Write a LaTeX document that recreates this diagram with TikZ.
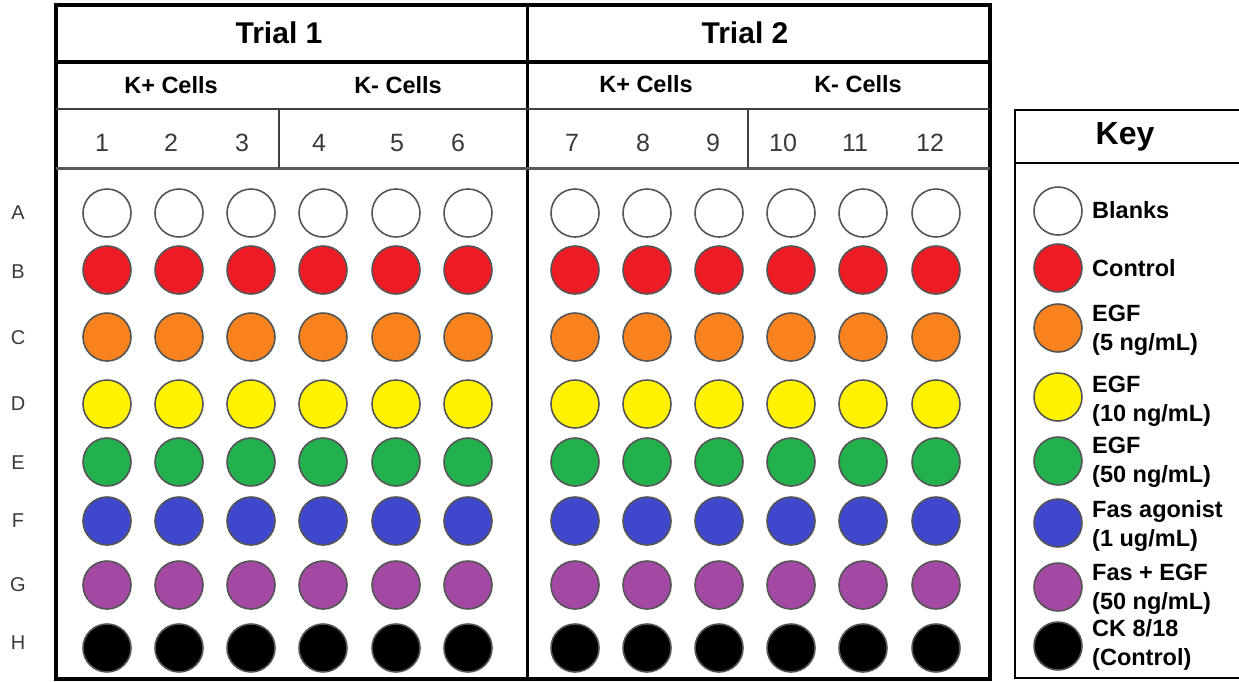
\documentclass[tikz,border=0pt]{standalone}
\usepackage{fontspec}
\setmainfont{Liberation Sans}
\definecolor{cred}{HTML}{ED1C24}
\definecolor{corange}{HTML}{F7821E}
\definecolor{cyellow}{HTML}{FFF200}
\definecolor{cgreen}{HTML}{22B14C}
\definecolor{cblue}{HTML}{3F48CC}
\definecolor{cpurple}{HTML}{A349A4}
\definecolor{welledge}{HTML}{555555}
\definecolor{numgray}{HTML}{3A3A3A}
\begin{document}
\begin{tikzpicture}[x=1pt,y=-1pt,
  well/.style={circle,draw=welledge,line width=1.6pt,minimum size=48pt,inner sep=0pt},
  trialtext/.style={font=\fontsize{30}{32}\selectfont\bfseries},
  celltext/.style={font=\fontsize{23.5}{26}\selectfont\bfseries},
  numtext/.style={font=\fontsize{25}{28}\selectfont,text=numgray},
  rowtext/.style={font=\fontsize{20}{24}\selectfont,text=numgray},
  keytext/.style={font=\fontsize{23.5}{29}\selectfont\bfseries,anchor=west,align=left,inner sep=0pt},
  thick frame/.style={line width=3.5pt},
  thin rule/.style={line width=1.5pt,draw=black!75}
]
\useasboundingbox (0,0) rectangle (1239,681);
% plate frame
\draw[thick frame] (56,5) rectangle (990,679);
\draw[thick frame] (56,62) -- (990,62);
\draw[line width=3pt] (527,5) -- (527,679);
\draw[thin rule] (56,109) -- (990,109);
\draw[line width=3pt,draw=black!65] (56,168) -- (990,168);
\draw[thin rule] (279,109) -- (279,168);
\draw[thin rule] (748,109) -- (748,168);
% headers
\node[trialtext] (t1) at (279,33) {Trial 1};
\node[trialtext] (t2) at (745,33) {Trial 2};
\node[celltext] (k1p) at (171,85) {K+ Cells};
\node[celltext] (k1m) at (398,85) {K- Cells};
\node[celltext] (k2p) at (646,84) {K+ Cells};
\node[celltext] (k2m) at (858,84) {K- Cells};
% column numbers
\foreach \n/\x in {1/102,2/171,3/242,4/319,5/397,6/458,7/572,8/643,9/713,10/783,11/855,12/930}
  \node[numtext] (n\n) at (\x,143) {\n};
% row labels
\foreach \r/\y in {A/213,B/272,C/338,D/404,E/463,F/521,G/585,H/643}
  \node[rowtext] (r\r) at (18,\y) {\r};
% wells
\foreach \r/\y/\c in {A/213/white,B/270/cred,C/337/corange,D/404/cyellow,E/462/cgreen,F/521/cblue,G/585/cpurple,H/648/black}{
  \foreach \k/\x in {1/107,2/179,3/251,4/323,5/396,6/468,7/575,8/647,9/719,10/791,11/863,12/936}
    \node[well,fill=\c] (w\r\k) at (\x,\y) {};
}
% key
\draw[line width=2.5pt] (1245,110) -- (1015,110) -- (1015,678) -- (1245,678);
\draw[line width=2.5pt] (1015,163) -- (1245,163);
\node[font=\fontsize{32}{36}\selectfont\bfseries] (keyt) at (1125,137) {Key};
\node[well,fill=white] (kA) at (1058,211) {};
\node[well,fill=cred] (kB) at (1058,268) {};
\node[well,fill=corange] (kC) at (1058,328) {};
\node[well,fill=cyellow] (kD) at (1058,397) {};
\node[well,fill=cgreen] (kE) at (1058,461) {};
\node[well,fill=cblue] (kF) at (1058,523) {};
\node[well,fill=cpurple] (kG) at (1058,587) {};
\node[well,fill=black] (kH) at (1058,646) {};
\node[keytext] (lA) at (1092,210) {Blanks};
\node[keytext] (lB) at (1092,268) {Control};
\node[keytext] (lC) at (1092,330) {EGF\\(5 ng/mL)};
\node[keytext] (lD) at (1092,401) {EGF\\(10 ng/mL)};
\node[keytext] (lE) at (1092,462) {EGF\\(50 ng/mL)};
\node[keytext] (lF) at (1092,526) {Fas agonist\\(1 ug/mL)};
\node[keytext] (lG) at (1092,589) {Fas + EGF\\(50 ng/mL)};
\node[keytext] (lH) at (1092,645) {CK 8/18\\(Control)};
\end{tikzpicture}
\end{document}
